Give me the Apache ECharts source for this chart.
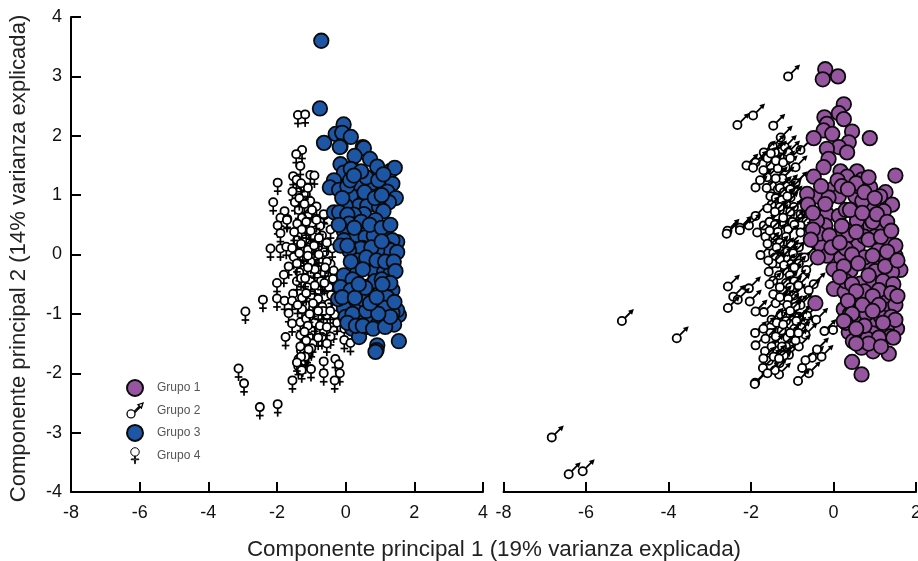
<!DOCTYPE html>
<html><head><meta charset="utf-8">
<style>html,body{margin:0;padding:0;background:#fff}#c{width:918px;height:561px}</style>
<script src="https://cdn.jsdelivr.net/npm/echarts@6/dist/echarts.min.js"></script>
</head><body><div id="c"></div>
<script>
const grupo4 = [[-1.39,2.35],[-1.18,2.36],[-1.27,1.76],[-1.44,1.69],[-1.32,1.49],[-1.03,1.34],[-0.91,1.33],[-1.53,1.32],[-1.43,1.26],[-1.98,1.21],[-1.24,1.15],[-1.55,1.06],[-1.16,1.02],[-2.11,0.88],[-1.48,0.88],[-1.03,0.9],[-0.85,0.81],[-1.78,0.73],[-1.37,0.75],[-1.07,0.68],[-0.62,0.66],[-1.9,0.62],[-1.27,0.62],[-1.7,0.6],[-0.64,0.68],[-1.98,0.49],[-1.71,0.58],[-1.41,0.52],[-0.98,0.53],[-0.44,0.42],[-0.69,0.32],[-1.9,0.36],[-1.17,0.26],[-1.41,0.24],[-2.19,0.1],[-1.9,0.1],[-1.73,0.13],[-1.56,0.11],[-1.05,0.12],[-0.81,0.12],[-0.39,0.1],[-0.62,0.04],[-1.51,-0.04],[-0.88,-0.02],[-1.22,-0.05],[-0.44,-0.16],[-0.72,-0.13],[-1.66,-0.2],[-1.22,-0.26],[-0.35,-0.27],[-1.8,-0.34],[-0.83,-0.38],[-0.37,-0.41],[-2.0,-0.48],[-1.03,-0.45],[-0.49,-0.55],[-0.25,-0.56],[-1.53,-0.66],[-0.98,-0.69],[-0.06,-0.69],[-1.27,-0.73],[-0.59,-0.72],[-2.41,-0.76],[-2.0,-0.74],[-1.78,-0.78],[-1.56,-0.78],[-1.12,-0.86],[-0.49,-0.83],[-1.27,-0.92],[-2.92,-0.96],[-1.66,-0.99],[-0.8,-1.05],[-0.54,-1.02],[-0.32,-1.01],[-0.07,-1.01],[-1.32,-1.14],[-1.56,-1.16],[-0.98,-1.29],[-0.35,-1.28],[-0.04,-1.25],[-0.69,-1.39],[-1.75,-1.39],[-1.32,-1.36],[-1.07,-1.38],[-0.44,-1.38],[-0.04,-1.44],[0.14,-1.49],[-0.96,-1.5],[-1.22,-1.52],[-1.37,-1.76],[-1.2,-1.8],[-0.64,-1.8],[-0.3,-1.76],[-0.2,-1.85],[-1.01,-1.93],[-0.64,-2.0],[-0.17,-2.0],[-0.32,-2.12],[-1.55,-2.12],[-3.12,-1.92],[-2.96,-2.17],[-1.98,-2.52],[-2.5,-2.57],[-1.15,0.42],[-0.95,0.3],[-0.75,0.48],[-1.25,0.05],[-1.02,-0.12],[-0.9,-0.25],[-0.62,-0.32],[-1.12,-0.55],[-0.78,-0.6],[-0.95,-0.9],[-0.68,-0.88],[-1.15,-1.08],[-0.9,-1.15],[-1.3,-1.62],[-1.12,-1.68],[-1.0,-1.58],[-1.25,-1.85],[-1.38,-1.88],[-0.55,-0.12],[-1.1,0.08],[-0.72,-0.45],[-1.42,-0.45],[-1.35,-0.3],[-1.3,1.2],[-1.1,1.12],[-1.35,0.95],[-1.2,0.85],[-0.98,0.75],[-1.15,0.55],[-0.85,0.58],[-1.28,0.42],[-1.02,0.4],[-0.78,0.28],[-1.5,0.38],[-1.3,0.18],[-0.92,0.15],[-0.55,0.2],[-1.35,0.02],[-1.1,-0.02],[-0.78,0.0],[-1.42,-0.15],[-1.1,-0.22],[-0.6,-0.22],[-1.3,-0.4],[-1.18,-0.4],[-0.9,-0.52],[-0.62,-0.48],[-0.42,-0.68],[-1.15,-0.65],[-0.8,-0.75],[-0.95,-0.82],[-0.65,-0.95],[-1.4,-0.85],[-1.05,-1.0],[-0.8,-0.95],[-0.45,-0.95],[-1.1,-1.2],[-0.75,-1.2],[-0.55,-1.22],[-0.25,-1.15],[-1.2,-1.3],[-0.8,-1.4],[-0.55,-1.5],[-1.15,-1.45],[-1.32,-1.55],[-1.08,-1.6],[-1.18,-1.72],[-1.3,-1.72],[-1.28,-1.95],[-1.42,-1.82]];
const grupo4Sobre = [[0.23,1.51],[0.55,-0.36],[0.29,-0.53],[0.71,-0.62]];
const grupo3 = [[-0.71,3.6],[-0.75,2.46],[-0.06,2.19],[-0.29,2.03],[-0.1,2.05],[0.15,1.98],[-0.63,1.88],[-0.15,1.82],[0.5,1.81],[-0.17,1.81],[0.53,1.79],[0.26,1.66],[0.71,1.61],[0.92,1.48],[1.31,1.41],[1.43,1.46],[-0.15,1.52],[-0.05,1.38],[0.15,1.44],[-0.34,1.25],[-0.46,1.13],[-0.19,1.09],[0.39,1.16],[0.78,1.21],[1.36,1.19],[1.21,1.06],[1.46,0.95],[1.26,0.88],[0.29,0.96],[0.15,0.99],[0.39,0.82],[0,0.82],[0.63,0.82],[0.97,0.81],[1.1,0.73],[0.53,0.68],[0.24,0.67],[-0.34,0.71],[-0.19,0.71],[0.05,0.67],[0.87,0.58],[0.1,0.52],[-0.05,0.39],[0.29,0.32],[0.58,0.29],[0.82,0.32],[1.19,0.29],[1.5,0.21],[1.36,0.24],[-0.05,0.24],[0.49,0.11],[0.19,0.1],[0.97,0.07],[1.21,0.1],[0.44,0.1],[0.1,0.07],[1.31,0.07],[0.92,0.07],[1.5,0.04],[0.97,-0.21],[0.68,-0.21],[1.26,-0.27],[0.34,-0.3],[0.85,-0.28],[1.12,-0.3],[1.3,-0.33],[0.05,-0.55],[0.49,-0.55],[1.36,-0.6],[1.21,-0.72],[0.15,-0.83],[0.97,-0.86],[0.53,-1.0],[1.55,-1.02],[1.5,-0.94],[1.36,-0.98],[1.07,-1.08],[1.41,-1.18],[0.19,-1.25],[0.39,-1.39],[0.63,-1.22],[1.55,-1.46],[0.92,-1.53],[0.9,-1.61],[0.87,-1.64],[0.4,-0.85],[0.75,-1.05],[0.3,-1.05],[0.9,-1.2],[-0.05,-0.9],[0.0,-1.05],[0.2,-1.0],[0.6,-0.95],[0.6,1.3],[0.95,1.25],[1.1,1.35],[0.45,1.4],[0.05,1.15],[0.55,1.05],[0.85,0.95],[1.05,1.0],[-0.1,0.95],[0.45,0.55],[0.7,0.5],[1.05,0.45],[1.3,0.5],[0.25,0.45],[-0.2,0.5],[-0.15,0.15],[0.05,0.15],[0.75,0.12],[1.05,0.22],[0.35,-0.1],[0.6,-0.05],[0.9,-0.1],[1.15,-0.12],[0.15,-0.12],[1.4,-0.12],[1.45,-0.28],[0.5,-0.25],[-0.05,-0.35],[0.2,-0.42],[0.85,-0.45],[1.05,-0.42],[1.3,-0.48],[-0.15,-0.55],[-0.22,-0.75],[0.5,-0.75],[1.15,-0.9],[0.72,-0.82],[1.42,-0.8],[0.05,-1.15],[0.3,-1.2],[0.5,-1.2],[0.8,-1.25],[1.15,-1.22],[0.15,-0.6],[-0.1,-0.72],[1.3,-1.05],[0.95,-1.0]];
const grupo3Sobre = [[0.13,1.25],[0.24,1.33],[0.57,-0.56],[0.27,-0.73],[0.71,-0.82],[0.38,-0.5],[0.9,-0.72],[1.07,-0.5]];
const grupo2 = [[-1.1,3.0],[-2.33,2.18],[-1.95,2.34],[-1.46,2.17],[-1.28,1.97],[-0.8,1.76],[-1.18,1.81],[-1.47,1.82],[-1.69,1.72],[-1.89,1.55],[-2.11,1.5],[-1.95,1.46],[-1.3,1.64],[-1.53,1.5],[-1.16,1.47],[-0.92,1.47],[-1.61,1.3],[-0.92,1.2],[-1.49,1.16],[-1.89,1.13],[-1.24,1.28],[-1.53,0.98],[-1.04,0.96],[-1.5,0.84],[-1.14,0.86],[-1.89,0.65],[-1.38,0.65],[-2.05,0.49],[-1.2,0.52],[-0.66,0.56],[-0.8,0.49],[-2.27,0.45],[-2.57,0.4],[-1.69,0.49],[-0.96,0.8],[-0.8,0.68],[-2.59,0.35],[-2.27,0.41],[-1.85,0.37],[-1.65,0.3],[-1.43,0.32],[-1.04,0.18],[-0.8,0.37],[-0.56,0.32],[-1.77,-0.01],[-1.46,0.03],[-1.24,0.09],[-0.84,0.12],[-1.04,-0.16],[-0.84,-0.15],[-1.57,-0.29],[-1.18,-0.27],[-0.66,-0.26],[-1.46,-0.44],[-1.06,-0.35],[-0.48,-0.5],[-2.56,-0.54],[-2.05,-0.57],[-2.43,-0.71],[-1.22,-0.62],[-1.46,-0.67],[-0.96,-0.69],[-2.03,-0.79],[-2.32,-0.76],[-1.24,-0.77],[-2.56,-0.9],[-1.89,-0.96],[-1.69,-0.97],[-1.28,-1.01],[-1.04,-0.89],[-0.64,-1.03],[-0.84,-1.05],[-0.42,-1.1],[-1.9,-1.32],[-1.53,-1.32],[-1.26,-1.28],[-1.04,-1.18],[-0.78,-1.23],[-0.22,-1.29],[-0.01,-1.27],[-0.68,-1.35],[-1.89,-1.53],[-1.66,-1.63],[-1.37,-1.62],[-1.08,-1.69],[-0.84,-1.55],[-1.57,-1.79],[-1.31,-1.83],[-1.71,-1.91],[-0.76,-1.91],[-0.29,-1.72],[-0.52,-1.74],[-1.32,-2.02],[-0.6,-2.0],[-0.86,-2.13],[-1.9,-2.16],[-1.91,-2.18],[-5.13,-1.12],[-3.8,-1.41],[-6.83,-3.08],[-6.42,-3.7],[-6.08,-3.65],[-1.35,1.1],[-1.15,1.15],[-1.3,0.75],[-1.0,0.55],[-1.3,0.2],[-1.15,-0.05],[-1.35,-0.15],[-0.95,-0.45],[-1.1,-0.75],[-0.8,-0.85],[-1.15,-1.0],[-0.95,-1.25],[-1.25,-1.45],[-1.15,-1.55],[-0.6,-0.6],[-0.7,-0.05],[-1.55,0.15],[-1.42,-0.05],[-1.6,1.62],[-1.42,1.72],[-1.1,1.72],[-1.35,1.45],[-1.7,1.42],[-1.78,1.25],[-1.3,1.12],[-1.2,1.05],[-1.05,1.1],[-1.4,0.95],[-1.25,0.92],[-1.6,0.78],[-1.3,0.8],[-1.05,0.72],[-1.55,0.55],[-1.42,0.5],[-1.1,0.42],[-0.95,0.5],[-1.35,0.38],[-1.15,0.3],[-1.55,0.4],[-1.6,0.18],[-1.38,0.12],[-1.12,0.05],[-0.98,0.02],[-1.3,-0.08],[-1.48,-0.15],[-1.2,-0.18],[-0.95,-0.22],[-1.32,-0.35],[-1.15,-0.48],[-1.55,-0.5],[-1.3,-0.55],[-1.05,-0.55],[-0.85,-0.52],[-1.4,-0.82],[-1.12,-0.85],[-0.92,-0.88],[-1.5,-1.1],[-1.38,-1.15],[-1.15,-1.12],[-0.9,-1.12],[-1.7,-1.25],[-1.4,-1.38],[-1.12,-1.4],[-0.92,-1.45],[-1.65,-1.42],[-1.5,-1.55],[-1.25,-1.55],[-1.2,-1.7],[-1.45,-1.72],[-1.7,-1.75],[-1.42,-1.95],[-1.6,-2.0],[-0.68,-1.78],[-0.4,-1.6],[-1.52,1.7],[-1.4,1.58],[-1.22,1.55],[-1.05,1.62],[-1.62,1.12],[-1.4,1.28],[-1.12,0.98],[-1.42,0.72],[-1.22,0.62],[-1.58,-0.1],[-1.3,-0.72],[-1.05,-0.95],[-1.22,-1.18],[-1.05,-1.32],[-0.85,-1.32],[-1.32,-1.75]];
const grupo1 = [[-0.2,3.12],[-0.26,2.95],[0.11,3.0],[0.25,2.53],[0.13,2.38],[-0.22,2.31],[0.25,2.28],[-0.16,2.2],[0.45,2.07],[-0.24,2.09],[-0.48,1.96],[-0.03,2.03],[0.88,1.96],[0.37,1.89],[0.13,1.81],[-0.16,1.78],[0.33,1.72],[-0.12,1.61],[0.17,1.4],[-0.24,1.47],[0.57,1.4],[1.5,1.33],[0.69,1.26],[-0.48,1.31],[0.33,1.31],[0.89,1.13],[1.26,1.05],[0.0,1.11],[0.53,0.98],[1.13,0.98],[0.13,0.98],[-0.4,0.98],[-0.64,1.02],[-0.12,0.96],[1.42,0.84],[-0.62,0.84],[0.93,0.75],[1.22,0.73],[-0.16,0.68],[0.13,0.65],[0.89,0.49],[-0.2,0.49],[0.33,0.4],[-0.4,0.57],[0.57,0.57],[1.13,0.49],[0.05,0.3],[0.37,0.33],[1.34,0.23],[-0.29,0.13],[0.59,0.15],[1.09,0.08],[1.5,-0.02],[0.18,-0.06],[-0.16,-0.02],[1.14,-0.13],[0.81,-0.13],[1.62,-0.26],[0.41,-0.27],[1.01,-0.28],[1.42,-0.3],[0.0,-0.25],[0.65,-0.49],[0.97,-0.48],[0.01,-0.58],[0.27,-0.63],[-0.44,-0.82],[1.26,-0.71],[0.53,-0.75],[0.89,-0.83],[1.34,-0.93],[0.25,-0.92],[0.57,-1.07],[1.01,-1.17],[1.54,-1.25],[1.3,-1.28],[0.65,-1.33],[0.37,-1.31],[0.95,-1.33],[1.38,-1.38],[0.47,-1.46],[0.82,-1.42],[1.34,-1.67],[0.96,-1.63],[0.68,-1.57],[0.45,-1.81],[0.68,-2.02],[0.7,0.9],[0.3,0.75],[0.75,0.3],[1.0,0.3],[0.3,0.1],[0.75,-0.05],[1.25,-0.05],[0.3,-0.45],[1.2,-0.45],[0.4,-1.0],[0.8,-1.0],[1.15,-1.05],[0.6,1.15],[0.95,0.55],[-0.35,0.35],[-0.5,0.7],[0.1,1.25],[0.55,1.2],[0.85,1.3],[0.2,1.15],[-0.3,1.15],[0.35,1.1],[0.75,1.05],[1.0,0.95],[-0.2,0.85],[0.4,0.75],[0.7,0.7],[1.05,0.68],[1.3,0.55],[-0.5,0.42],[-0.1,0.32],[0.2,0.48],[0.55,0.38],[0.85,0.25],[1.15,0.3],[1.4,0.4],[1.5,0.15],[-0.05,0.12],[0.15,0.2],[0.45,0.0],[0.95,-0.02],[1.3,0.05],[-0.38,-0.05],[0.25,-0.2],[0.6,-0.15],[0.85,-0.35],[1.25,-0.2],[1.45,-0.5],[0.15,-0.38],[0.45,-0.5],[0.75,-0.62],[1.1,-0.6],[1.4,-0.65],[0.55,-0.62],[0.95,-0.7],[0.35,-0.78],[0.7,-0.85],[1.1,-0.85],[1.5,-0.85],[0.45,-1.0],[0.95,-0.95],[1.4,-1.05],[1.5,-1.1],[0.3,-1.15],[0.75,-1.2],[1.2,-1.15],[1.45,-1.4],[0.55,-1.25],[1.1,-1.4],[0.85,-1.5],[1.15,-1.55],[0.55,-1.5],[0.25,-1.12],[1.55,-0.7],[1.55,-0.1],[-0.55,0.25]];
const xTicks = { izquierda: [-8, 4], derecha: [-8, 2] };

const MALE = 'path://M5 7A4 4 0 1 0 5.01 7ZM8.4 8.2L13.5 3.1L12 1.8L17 0L15.4 5L14.4 4L9.4 9.2Z';
const FEMALE = 'path://M5 0A4.5 4.5 0 1 0 5.01 0ZM4.6 9H5.4V12H9V12.8H5.4V17H4.6V12.8H1V12H4.6Z';

function renderMale(params, api) {
  const p = api.coord([api.value(0), api.value(1)]);
  const x = p[0], y = p[1];
  return { type: 'group', children: [
    { type: 'line', shape: { x1: x + 3, y1: y - 3, x2: x + 9, y2: y - 9 }, style: { stroke: '#000', lineWidth: 1.8 } },
    { type: 'polygon', shape: { points: [[x + 12, y - 12], [x + 6.2, y - 10.2], [x + 10.2, y - 6.2]] }, style: { fill: '#000' } },
    { type: 'circle', shape: { cx: x, cy: y, r: 4.1 }, style: { stroke: '#000', lineWidth: 1.8, fill: '#fff' } }
  ] };
}
function renderFemale(params, api) {
  const p = api.coord([api.value(0), api.value(1)]);
  const x = p[0], y = p[1];
  const l = { stroke: '#000', lineWidth: 1.7 };
  return { type: 'group', children: [
    { type: 'line', shape: { x1: x, y1: y + 4, x2: x, y2: y + 12.5 }, style: l },
    { type: 'line', shape: { x1: x - 3.8, y1: y + 8.5, x2: x + 3.8, y2: y + 8.5 }, style: l },
    { type: 'circle', shape: { cx: x, cy: y, r: 4.1 }, style: { stroke: '#000', lineWidth: 1.8, fill: '#fff' } }
  ] };
}
const glyph = (name, data, render, ax) => ({ type: 'custom', name, data, renderItem: render, xAxisIndex: ax, yAxisIndex: ax,
  encode: { x: 0, y: 1 }, itemStyle: { color: '#fff', borderColor: '#000' }, clip: false, silent: true });
const dots = (name, data, color, ax) => ({ type: 'scatter', name, data, xAxisIndex: ax, yAxisIndex: ax, symbol: 'circle', symbolSize: 14.5,
  itemStyle: { color, borderColor: '#0a0a0a', borderWidth: 1.8, opacity: 1 }, clip: false, silent: true });

const axisCommon = {
  axisLine: { show: true, onZero: false, lineStyle: { color: '#000', width: 2 } },
  axisTick: { show: true, inside: true, length: 10, lineStyle: { color: '#000', width: 2 } },
  splitLine: { show: false },
  axisLabel: { fontFamily: 'Liberation Sans', fontSize: 18, color: '#111', margin: 12, showMinLabel: true, showMaxLabel: true }
};
const option = {
  animation: false,
  backgroundColor: '#fff',
  title: { text: 'Componente principal 1 (19% varianza explicada)', left: 494, top: 539, textAlign: 'center', padding: 0,
    textStyle: { fontFamily: 'Liberation Sans', fontSize: 22.4, fontWeight: 'normal', color: '#222' } },
  legend: { orient: 'vertical', left: 126, top: 379, padding: 0, itemGap: 5.3, itemWidth: 16, itemHeight: 16,
    textStyle: { fontFamily: 'Liberation Sans', fontSize: 12, color: '#555', padding: [0, 0, 0, 9] },
    selectedMode: false,
    data: [
      { name: 'Grupo 1', icon: 'circle' },
      { name: 'Grupo 2', icon: MALE, itemStyle: { color: '#fff', borderColor: '#000', borderWidth: 1.3 } },
      { name: 'Grupo 3', icon: 'circle' },
      { name: 'Grupo 4', icon: FEMALE, itemStyle: { color: '#fff', borderColor: '#000', borderWidth: 1 } }
    ] },
  grid: [
    { left: 71, width: 412, top: 17, height: 475, outerBoundsMode: 'none' },
    { left: 503.5, width: 412.5, top: 17, height: 475, outerBoundsMode: 'none' }
  ],
  xAxis: [
    Object.assign({ type: 'value', gridIndex: 0, min: xTicks.izquierda[0], max: xTicks.izquierda[1], interval: 2 }, axisCommon),
    Object.assign({ type: 'value', gridIndex: 1, min: xTicks.derecha[0], max: xTicks.derecha[1], interval: 2 }, axisCommon)
  ],
  yAxis: [
    Object.assign({ type: 'value', gridIndex: 0, min: -4, max: 4, interval: 1,
      name: 'Componente principal 2 (14% varianza explicada)', nameLocation: 'middle', nameGap: 41,
      nameTextStyle: { fontFamily: 'Liberation Sans', fontSize: 22.1, color: '#222', padding: [0, 8, 0, 0] } }, axisCommon,
      { axisLabel: Object.assign({}, axisCommon.axisLabel, { margin: 9 }) }),
    { type: 'value', gridIndex: 1, min: -4, max: 4, interval: 1, show: false }
  ],
  series: [
    glyph('Grupo 4', grupo4, renderFemale, 0),
    dots('Grupo 3', grupo3, '#1e56a6', 0),
    glyph('Grupo 4', grupo4Sobre, renderFemale, 0),
    dots('Grupo 3', grupo3Sobre, '#1e56a6', 0),
    glyph('Grupo 2', grupo2, renderMale, 1),
    dots('Grupo 1', grupo1, '#95569f', 1)
  ]
};
echarts.init(document.getElementById('c'), null, { renderer: 'canvas' }).setOption(option);
</script></body></html>
